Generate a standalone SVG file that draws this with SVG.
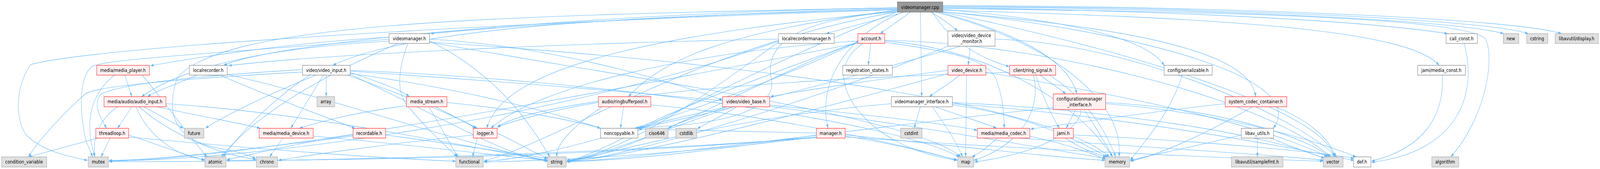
<svg xmlns="http://www.w3.org/2000/svg" width="5062" height="432" viewBox="0 0 5062 432" preserveAspectRatio="none">
<style>
svg:root{width:100vw;height:100vh}
.e{fill:none;stroke:#63b8ff;stroke-width:1.1;marker-end:url(#ah)}
.r rect{fill:#fff0f0;stroke:#ff0000;stroke-width:1}
.g rect{fill:#e0e0e0;stroke:#999999;stroke-width:1}
.w rect{fill:#ffffff;stroke:#666666;stroke-width:1}
.root rect{fill:#999999;stroke:#666666;stroke-width:1}
text{font-family:"DejaVu Sans","Liberation Sans",sans-serif;font-size:13px;fill:#000;text-anchor:middle}
</style>
<defs>
<marker id="ah" markerUnits="userSpaceOnUse" markerWidth="11" markerHeight="8" refX="10" refY="3.5" orient="auto">
<path d="M0,0 L10,3.5 L0,7 z" fill="#63b8ff"/>
</marker>
</defs>
<rect width="5062" height="432" fill="#ffffff"/>
<g id="connectors">
<path class="e" d="M2839,22 C2400,30 1700,60 1362,86"/>
<path class="e" d="M2860,31 C2780,50 2680,70 2614,86"/>
<path class="e" d="M2880,31 C2850,50 2810,70 2785,86"/>
<path class="e" d="M2945,31 C2975,45 3005,62 3030,79"/>
<path class="e" d="M2912,31 C2913,100 2915,180 2916,247"/>
<path class="e" d="M2983,20 C3600,25 4300,50 4580,86"/>
<path class="e" d="M2983,18 C3800,22 4600,50 4757,86"/>
<path class="e" d="M2983,16 C3900,20 4700,50 4835,86"/>
<path class="e" d="M2983,14 C4000,18 4800,50 4940,86"/>
<path class="e" d="M2983,26 C3800,45 4450,70 4553,167"/>
<path class="e" d="M2983,30 C3400,60 3960,110 3972,247"/>
<path class="e" d="M2950,31 C3000,100 3100,150 3193,170"/>
<path class="e" d="M2970,31 C3200,80 3380,150 3407,240"/>
<path class="e" d="M2857,31 C2700,80 2580,200 2620,328"/>
<path class="e" d="M2839,28 C2200,80 1600,150 1540,328"/>
<path class="e" d="M2839,26 C2300,80 2100,150 1988,247"/>
<path class="e" d="M2839,24 C2000,40 1300,70 1053,167"/>
<path class="e" d="M2839,20 C2000,30 900,100 707,167"/>
<path class="e" d="M2983,30 C3600,80 4150,200 4028,328"/>
<path class="e" d="M2839,30 C2200,120 1800,350 1531,412"/>
<path class="e" d="M2960,31 C3300,100 3560,250 3540,401"/>
<path class="e" d="M2839,30 C2300,200 1900,400 1793,412"/>
<path class="e" d="M2983,31 C3700,150 4200,300 4220,401"/>
<path class="e" d="M2839,25 C1500,60 300,120 97,165 C40,230 50,330 97,355 C150,390 230,402 277,410"/>
<path class="e" d="M2983,22 C4000,30 4650,50 4700,100 C4730,150 4700,300 4590,401"/>
<path class="e" d="M2839,20 C1500,40 700,60 560,200 C520,300 560,360 700,380 C770,390 795,400 809,405"/>
<path class="e" d="M2839,30 C2500,50 2420,120 2440,200 C2460,280 2300,320 2020,326"/>
<path class="e" d="M2983,24 C3500,60 3650,120 3683,168"/>
<path class="e" d="M1231,95 C900,110 600,150 476,168"/>
<path class="e" d="M1231,105 C900,120 600,160 448,247"/>
<path class="e" d="M1359,100 C1800,120 2200,230 2286,256"/>
<path class="e" d="M1290,111 C1250,200 1260,250 1300,280 C1350,330 1420,380 1446,401"/>
<path class="e" d="M1359,105 C1600,200 1700,350 1740,401"/>
<path class="e" d="M1359,108 C2000,200 2900,300 3040,401"/>
<path class="e" d="M1359,108 C2200,150 3300,250 3510,401"/>
<path class="e" d="M1260,111 C1000,200 800,300 700,401"/>
<path class="e" d="M1231,100 C800,130 330,150 290,170 C250,200 250,280 272,360 L293,401"/>
<path class="e" d="M957,184 C600,200 300,220 270,240 C200,290 120,360 90,401"/>
<path class="e" d="M395,192 L417,247"/>
<path class="e" d="M363,192 C300,230 260,300 300,401"/>
<path class="e" d="M450,192 C520,260 600,350 655,401"/>
<path class="e" d="M623,192 C560,215 500,230 467,247"/>
<path class="e" d="M697,192 C800,230 1000,290 1123,328"/>
<path class="e" d="M719,190 C1100,260 1500,380 1734,410"/>
<path class="e" d="M2463,100 C1800,110 1000,140 723,168"/>
<path class="e" d="M2463,108 C2300,200 2000,390 1793,410"/>
<path class="e" d="M2463,105 C1800,300 800,411 345,411"/>
<path class="e" d="M2755,111 L2747,167"/>
<path class="e" d="M2730,111 C2640,160 2650,240 2760,320 C2850,380 2950,400 3028,410"/>
<path class="e" d="M2714,105 C2200,130 1700,220 1553,328"/>
<path class="e" d="M2714,108 C2400,200 2000,400 1793,412"/>
<path class="e" d="M2799,105 C3100,120 3400,250 3520,401"/>
<path class="e" d="M2799,103 C3300,110 4000,250 4210,401"/>
<path class="e" d="M2714,110 C1500,300 700,410 345,412"/>
<path class="e" d="M2714,108 C2200,300 1700,410 1531,412"/>
<path class="e" d="M2714,107 C2400,200 2100,290 2027,328"/>
<path class="e" d="M2799,108 C3000,130 3120,150 3150,200 C3175,250 3177,300 3177,328"/>
<path class="e" d="M3070,118 L3063,167"/>
<path class="e" d="M3148,100 C3600,110 4100,300 4230,401"/>
<path class="e" d="M3000,118 C2600,250 2000,400 1793,414"/>
<path class="e" d="M3040,118 C2600,220 2200,300 2017,328"/>
<path class="e" d="M1032,192 L1032,247"/>
<path class="e" d="M1023,192 L920,328"/>
<path class="e" d="M957,178 C700,190 400,210 320,240 C290,270 320,300 337,328"/>
<path class="e" d="M1000,192 C850,240 700,300 650,328"/>
<path class="e" d="M1108,185 C1200,210 1270,230 1295,247"/>
<path class="e" d="M980,192 C850,260 750,350 707,401"/>
<path class="e" d="M1100,192 C1300,250 1450,300 1510,328"/>
<path class="e" d="M1108,180 C1800,200 2800,300 3035,401"/>
<path class="e" d="M1108,190 C1400,300 1600,400 1734,412"/>
<path class="e" d="M1108,188 C1500,230 1800,300 1900,328"/>
<path class="e" d="M1108,182 C2000,230 2900,300 3092,333"/>
<path class="e" d="M3037,192 C3000,215 2970,230 2940,247"/>
<path class="e" d="M2999,180 C2800,200 2550,230 2437,247"/>
<path class="e" d="M3058,192 C3057,260 3056,350 3055,401"/>
<path class="e" d="M2999,188 C2500,300 2000,400 1793,413"/>
<path class="e" d="M3119,185 C3600,250 4000,320 4200,401"/>
<path class="e" d="M3290,192 C3320,210 3350,225 3372,240"/>
<path class="e" d="M3277,192 C3300,250 3330,300 3352,328"/>
<path class="e" d="M3194,185 C2500,200 1700,250 1573,325"/>
<path class="e" d="M3270,192 C3300,300 3200,380 3081,410"/>
<path class="e" d="M3320,192 C3450,260 3500,340 3530,401"/>
<path class="e" d="M3740,192 C3700,300 3600,380 3576,410"/>
<path class="e" d="M4563,192 C4570,300 4500,380 4339,412"/>
<path class="e" d="M4632,111 C4680,250 4600,390 4339,415"/>
<path class="e" d="M2300,273 C2200,300 2140,315 2114,328"/>
<path class="e" d="M2330,273 C2280,300 2230,315 2206,330"/>
<path class="e" d="M2320,273 C2100,330 1900,400 1793,412"/>
<path class="e" d="M2435,272 C2900,320 3300,380 3500,405"/>
<path class="e" d="M2300,273 C2150,300 2050,320 2010,328"/>
<path class="e" d="M2912,273 L2892,328"/>
<path class="e" d="M3013,265 C3600,300 4100,380 4284,410"/>
<path class="e" d="M2950,273 C3000,330 3030,370 3045,401"/>
<path class="e" d="M2820,265 C2300,300 1900,400 1793,413"/>
<path class="e" d="M3013,268 C3300,300 3450,380 3505,401"/>
<path class="e" d="M3013,262 C3500,280 4000,340 4190,405"/>
<path class="e" d="M2960,273 C3050,300 3120,315 3153,328"/>
<path class="e" d="M3403,280 L3373,328"/>
<path class="e" d="M3420,280 C3420,330 3300,390 3083,414"/>
<path class="e" d="M3430,280 C3470,330 3500,370 3520,401"/>
<path class="e" d="M3332,275 C2800,320 2100,400 1793,414"/>
<path class="e" d="M3498,265 C3900,290 4200,370 4290,401"/>
<path class="e" d="M3498,262 C3900,280 4150,360 4205,401"/>
<path class="e" d="M3963,273 C3800,350 3650,400 3576,412"/>
<path class="e" d="M4035,273 C4150,310 4210,360 4225,401"/>
<path class="e" d="M3876,265 C3600,290 3350,320 3260,330"/>
<path class="e" d="M3396,345 C3800,360 4200,390 4284,405"/>
<path class="e" d="M3370,353 C3420,380 3470,395 3500,401"/>
<path class="e" d="M3155,353 C3120,380 3090,395 3075,401"/>
<path class="e" d="M3258,348 C3380,370 3470,395 3497,408"/>
<path class="e" d="M3220,353 C3700,380 4100,400 4188,410"/>
<path class="e" d="M3978,353 L3978,401"/>
<path class="e" d="M4020,353 C4100,380 4170,398 4190,405"/>
<path class="e" d="M3927,345 C3750,380 3620,400 3576,410"/>
<path class="e" d="M2583,345 C2300,380 2000,410 1793,413"/>
<path class="e" d="M2674,345 C3000,370 3300,400 3496,410"/>
<path class="e" d="M2674,350 C3200,380 3900,405 4186,412"/>
<path class="e" d="M2674,348 C2850,370 2950,395 3028,408"/>
<path class="e" d="M2583,350 C2200,390 1800,410 1531,414"/>
<path class="e" d="M2583,352 C1800,400 800,415 345,413"/>
<path class="e" d="M2583,350 C2000,395 1200,410 717,410"/>
<path class="e" d="M2583,340 C2300,335 2100,330 2020,330"/>
<path class="e" d="M1573,340 C1650,370 1700,395 1734,405"/>
<path class="e" d="M1510,353 L1495,401"/>
<path class="e" d="M1497,345 C1200,370 950,400 880,410"/>
<path class="e" d="M1117,345 C900,370 780,400 717,408"/>
<path class="e" d="M1220,345 C1450,370 1650,395 1732,405"/>
<path class="e" d="M1117,348 C800,380 500,410 345,410"/>
<path class="e" d="M895,353 L853,401"/>
<path class="e" d="M991,348 C1300,370 1600,400 1732,410"/>
<path class="e" d="M1377,273 C1430,295 1480,315 1505,328"/>
<path class="e" d="M1357,273 C1400,330 1430,380 1450,401"/>
<path class="e" d="M1286,270 C1100,290 1000,315 947,328"/>
<path class="e" d="M1414,262 C1650,280 1850,315 1900,328"/>
<path class="e" d="M310,353 L90,401"/>
<path class="e" d="M348,353 L320,401"/>
<path class="e" d="M407,345 C500,370 600,400 648,410"/>
<path class="e" d="M407,350 C800,380 1200,405 1442,412"/>
<path class="e" d="M417,273 L372,328"/>
<path class="e" d="M373,273 C320,300 290,350 300,401"/>
<path class="e" d="M455,273 L580,328"/>
<path class="e" d="M497,273 C650,300 780,318 823,328"/>
<path class="e" d="M430,273 C470,350 560,400 648,408"/>
<path class="e" d="M440,273 C550,350 700,395 811,408"/>
<path class="e" d="M525,265 C1000,290 1500,380 1734,410"/>
<path class="e" d="M1973,273 L1963,328"/>
<path class="e" d="M1905,273 C1800,330 1760,370 1762,401"/>
<path class="e" d="M1893,262 C1750,280 1620,310 1573,325"/>
<path class="e" d="M2059,268 C2500,300 2900,380 3030,410"/>
</g>
<g id="n_root" class="root"><rect x="2839" y="5" width="144" height="26"/><text x="2911" y="23">videomanager.cpp</text></g>
<g id="n_vmh" class="w"><rect x="1231" y="86" width="128" height="25"/><text x="1295" y="103">videomanager.h</text></g>
<g id="n_lrm" class="w"><rect x="2463" y="86" width="176" height="25"/><text x="2551" y="103">localrecordermanager.h</text></g>
<g id="n_acc" class="r"><rect x="2714" y="86" width="85" height="25"/><text x="2756" y="103">account.h</text></g>
<g id="n_vdm" class="w"><rect x="2999" y="79" width="149" height="39"/><text x="3073" y="95">video/video_device</text><text x="3073" y="110">_monitor.h</text></g>
<g id="n_cc" class="w"><rect x="4575" y="86" width="99" height="25"/><text x="4624" y="103">call_const.h</text></g>
<g id="n_new" class="g"><rect x="4756" y="86" width="49" height="25"/><text x="4780" y="103">new</text></g>
<g id="n_cstring" class="g"><rect x="4830" y="86" width="67" height="25"/><text x="4863" y="103">cstring</text></g>
<g id="n_display" class="g"><rect x="4920" y="86" width="137" height="25"/><text x="4988" y="103">libavutil/display.h</text></g>
<g id="n_mp" class="r"><rect x="306" y="167" width="167" height="25"/><text x="389" y="184">media/media_player.h</text></g>
<g id="n_lr" class="w"><rect x="599" y="167" width="120" height="25"/><text x="659" y="184">localrecorder.h</text></g>
<g id="n_vi" class="w"><rect x="957" y="167" width="151" height="25"/><text x="1032" y="184">video/video_input.h</text></g>
<g id="n_rs" class="w"><rect x="2666" y="167" width="157" height="25"/><text x="2744" y="184">registration_states.h</text></g>
<g id="n_vd" class="r"><rect x="2999" y="167" width="120" height="25"/><text x="3059" y="184">video_device.h</text></g>
<g id="n_rsig" class="r"><rect x="3194" y="167" width="146" height="25"/><text x="3267" y="184">client/ring_signal.h</text></g>
<g id="n_ser" class="w"><rect x="3683" y="167" width="152" height="25"/><text x="3759" y="184">config/serializable.h</text></g>
<g id="n_mc" class="w"><rect x="4485" y="167" width="151" height="25"/><text x="4560" y="184">jami/media_const.h</text></g>
<g id="n_ai" class="r"><rect x="329" y="247" width="196" height="26"/><text x="427" y="264">media/audio/audio_input.h</text></g>
<g id="n_array" class="g"><rect x="1003" y="247" width="56" height="26"/><text x="1031" y="264">array</text></g>
<g id="n_ms" class="r"><rect x="1286" y="247" width="128" height="26"/><text x="1350" y="264">media_stream.h</text></g>
<g id="n_rbp" class="r"><rect x="1893" y="247" width="166" height="26"/><text x="1976" y="264">audio/ringbufferpool.h</text></g>
<g id="n_vb" class="r"><rect x="2286" y="247" width="149" height="26"/><text x="2360" y="264">video/video_base.h</text></g>
<g id="n_vmi" class="w"><rect x="2820" y="247" width="193" height="26"/><text x="2916" y="264">videomanager_interface.h</text></g>
<g id="n_cmi" class="r"><rect x="3332" y="240" width="166" height="40"/><text x="3415" y="257">configurationmanager</text><text x="3415" y="272">_interface.h</text></g>
<g id="n_scc" class="r"><rect x="3876" y="247" width="195" height="26"/><text x="3973" y="264">system_codec_container.h</text></g>
<g id="n_tl" class="r"><rect x="303" y="328" width="104" height="25"/><text x="355" y="345">threadloop.h</text></g>
<g id="n_future" class="g"><rect x="583" y="328" width="62" height="25"/><text x="614" y="345">future</text></g>
<g id="n_md" class="r"><rect x="820" y="328" width="171" height="25"/><text x="905" y="345">media/media_device.h</text></g>
<g id="n_rec" class="r"><rect x="1117" y="328" width="103" height="25"/><text x="1168" y="345">recordable.h</text></g>
<g id="n_log" class="r"><rect x="1497" y="328" width="76" height="25"/><text x="1535" y="345">logger.h</text></g>
<g id="n_nc" class="w"><rect x="1900" y="328" width="118" height="25"/><text x="1959" y="345">noncopyable.h</text></g>
<g id="n_ciso" class="g"><rect x="2042" y="328" width="72" height="25"/><text x="2078" y="345">ciso646</text></g>
<g id="n_cstdlib" class="g"><rect x="2138" y="328" width="66" height="25"/><text x="2171" y="345">cstdlib</text></g>
<g id="n_mgr" class="r"><rect x="2583" y="328" width="91" height="25"/><text x="2628" y="345">manager.h</text></g>
<g id="n_cstdint" class="g"><rect x="2849" y="328" width="68" height="25"/><text x="2883" y="345">cstdint</text></g>
<g id="n_mcd" class="r"><rect x="3092" y="328" width="166" height="25"/><text x="3175" y="345">media/media_codec.h</text></g>
<g id="n_jami" class="r"><rect x="3333" y="328" width="63" height="25"/><text x="3364" y="345">jami.h</text></g>
<g id="n_lau" class="w"><rect x="3927" y="328" width="102" height="25"/><text x="3978" y="345">libav_utils.h</text></g>
<g id="n_cv" class="g"><rect x="5" y="401" width="143" height="26"/><text x="76" y="418">condition_variable</text></g>
<g id="n_mutex" class="g"><rect x="279" y="401" width="64" height="26"/><text x="311" y="418">mutex</text></g>
<g id="n_atomic" class="g"><rect x="648" y="401" width="67" height="26"/><text x="681" y="418">atomic</text></g>
<g id="n_chrono" class="g"><rect x="811" y="401" width="67" height="26"/><text x="844" y="418">chrono</text></g>
<g id="n_functional" class="g"><rect x="1442" y="401" width="87" height="26"/><text x="1485" y="418">functional</text></g>
<g id="n_string" class="g"><rect x="1732" y="401" width="59" height="26"/><text x="1761" y="418">string</text></g>
<g id="n_map" class="g"><rect x="3030" y="401" width="51" height="26"/><text x="3055" y="418">map</text></g>
<g id="n_memory" class="g"><rect x="3496" y="401" width="78" height="26"/><text x="3535" y="418">memory</text></g>
<g id="n_samplefmt" class="g"><rect x="3896" y="401" width="163" height="26"/><text x="3977" y="418">libavutil/samplefmt.h</text></g>
<g id="n_vector" class="g"><rect x="4186" y="401" width="63" height="26"/><text x="4217" y="418">vector</text></g>
<g id="n_def" class="w"><rect x="4282" y="401" width="55" height="26"/><text x="4309" y="418">def.h</text></g>
<g id="n_algorithm" class="g"><rect x="4530" y="401" width="85" height="26"/><text x="4572" y="418">algorithm</text></g>
</svg>
